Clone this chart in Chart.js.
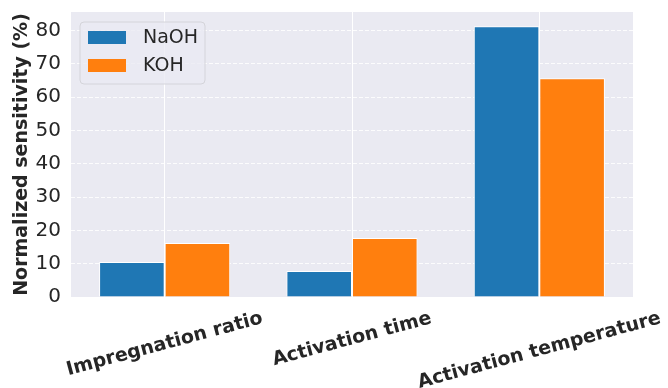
<!DOCTYPE html>
<html>
<head>
<meta charset="utf-8">
<script src="https://cdn.jsdelivr.net/npm/chart.js@4"></script>
<style>
  body { margin: 0; background: #fff; }
  canvas { display: block; }
</style>
</head>
<body>
<canvas id="sensChart" width="668" height="388"></canvas>
<script>
const categories = ['Impregnation ratio', 'Activation time', 'Activation temperature'];
const naohValues = [10.5, 7.8, 81.3];
const kohValues = [16.2, 17.7, 65.7];
const yTicks = [0, 10, 20, 30, 40, 50, 60, 70, 80];

const textColor = '#262626';
const fontFamily = "'DejaVu Sans', sans-serif";

// grey plot background like seaborn darkgrid
const plotBackground = {
    id: 'plotBackground',
    beforeDraw(chart) {
        const { ctx, chartArea: a } = chart;
        ctx.save();
        ctx.fillStyle = '#eaeaf2';
        ctx.fillRect(a.left, a.top, a.right - a.left, a.bottom - a.top);
        ctx.restore();
    }
};

// rotated x labels centred on the tick, plus the legend box inside the plot
const labelsAndLegend = {
    id: 'labelsAndLegend',
    afterDraw(chart) {
        const ctx = chart.ctx;
        const xScale = chart.scales.x;
        const angle = 15 * Math.PI / 180;
        const size = 19;

        ctx.save();
        ctx.font = 'bold ' + size + 'px ' + fontFamily;
        ctx.fillStyle = textColor;
        ctx.textAlign = 'center';
        ctx.textBaseline = 'middle';
        categories.forEach((label, i) => {
            const w = ctx.measureText(label).width;
            const h = w * Math.sin(angle) + size * Math.cos(angle);
            const x = xScale.getPixelForValue(i);
            const y = chart.chartArea.bottom + 12 + h / 2;
            ctx.save();
            ctx.translate(x, y);
            ctx.rotate(-angle);
            ctx.fillText(label, 0, 0);
            ctx.restore();
        });
        ctx.restore();

        // legend
        const a = chart.chartArea;
        const bx = a.left + 9, by = a.top + 10, bw = 125, bh = 62;
        ctx.save();
        ctx.beginPath();
        ctx.roundRect(bx, by, bw, bh, 4);
        ctx.fillStyle = 'rgba(234,234,242,0.8)';
        ctx.fill();
        ctx.strokeStyle = '#d4d4da';
        ctx.lineWidth = 1;
        ctx.stroke();
        ctx.font = '19px ' + fontFamily;
        ctx.textAlign = 'left';
        ctx.textBaseline = 'middle';
        chart.data.datasets.forEach((ds, i) => {
            const ry = by + 9 + i * 28;
            ctx.fillStyle = ds.backgroundColor;
            ctx.fillRect(bx + 8, ry, 38, 13);
            ctx.fillStyle = textColor;
            ctx.fillText(ds.label, bx + 63, ry + 7);
        });
        ctx.restore();
    }
};

new Chart(document.getElementById('sensChart'), {
    type: 'bar',
    data: {
        labels: categories,
        datasets: [
            {
                label: 'NaOH',
                data: naohValues,
                backgroundColor: '#1f77b4',
                borderColor: '#ffffff',
                borderWidth: 1,
                categoryPercentage: 0.7,
                barPercentage: 1.0
            },
            {
                label: 'KOH',
                data: kohValues,
                backgroundColor: '#ff7f0e',
                borderColor: '#ffffff',
                borderWidth: 1,
                categoryPercentage: 0.7,
                barPercentage: 1.0
            }
        ]
    },
    options: {
        responsive: false,
        animation: false,
        layout: {
            padding: { top: 12, right: 35, bottom: 91, left: 0 }
        },
        plugins: {
            legend: { display: false },
            tooltip: { enabled: false }
        },
        scales: {
            x: {
                grid: {
                    offset: false,
                    color: '#ffffff',
                    lineWidth: 1,
                    drawTicks: false
                },
                border: { display: false },
                ticks: { display: false }
            },
            y: {
                min: 0,
                max: 85.6,
                afterBuildTicks(scale) {
                    scale.ticks = yTicks.map(v => ({ value: v }));
                },
                afterFit(scale) {
                    scale.paddingTop = 0;
                    scale.paddingBottom = 0;
                    scale.width = 71;
                },
                grid: {
                    color: 'rgba(255,255,255,0.85)',
                    lineWidth: 1,
                    drawTicks: false
                },
                border: { display: false, dash: [4, 2] },
                ticks: {
                    color: textColor,
                    padding: 10,
                    font: { family: fontFamily, size: 20 }
                },
                title: {
                    display: true,
                    text: 'Normalized sensitivity (%)',
                    color: textColor,
                    font: { family: fontFamily, size: 19, weight: 'bold' },
                    padding: { top: 11, bottom: 2 }
                }
            }
        }
    },
    plugins: [plotBackground, labelsAndLegend]
});
</script>
</body>
</html>
